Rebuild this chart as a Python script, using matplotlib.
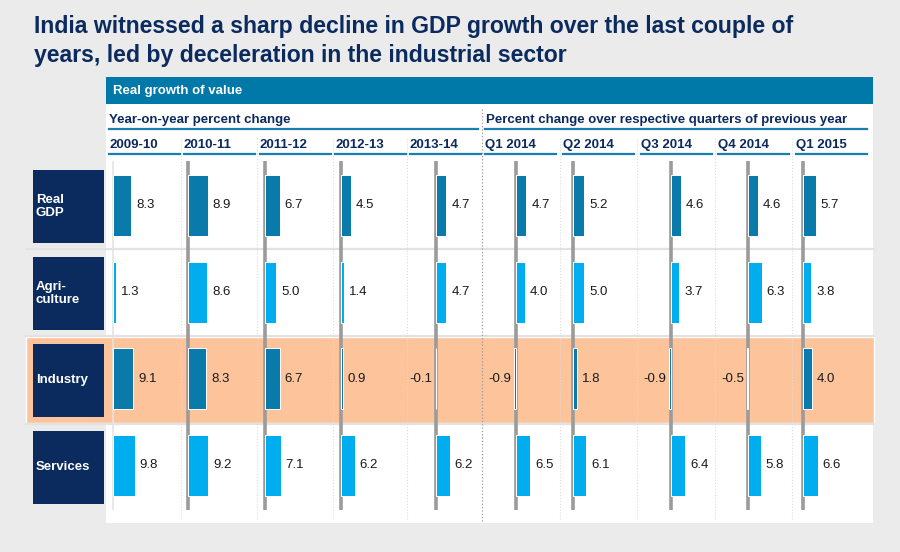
import matplotlib
matplotlib.use("Agg")
import matplotlib.pyplot as plt
from matplotlib.patches import Rectangle

plt.rcParams["font.family"] = ["Liberation Sans", "DejaVu Sans"]

# data
years = ["2009-10", "2010-11", "2011-12", "2012-13", "2013-14"]
quarters = ["Q1 2014", "Q2 2014", "Q3 2014", "Q4 2014", "Q1 2015"]
sectors = ["Real\nGDP", "Agri-\nculture", "Industry", "Services"]
real_gdp = [8.3, 8.9, 6.7, 4.5, 4.7, 4.7, 5.2, 4.6, 4.6, 5.7]
agriculture = [1.3, 8.6, 5.0, 1.4, 4.7, 4.0, 5.0, 3.7, 6.3, 3.8]
industry = [9.1, 8.3, 6.7, 0.9, -0.1, -0.9, 1.8, -0.9, -0.5, 4.0]
services = [9.8, 9.2, 7.1, 6.2, 6.2, 6.5, 6.1, 6.4, 5.8, 6.6]

title_lines = ["India witnessed a sharp decline in GDP growth over the last couple of",
               "years, led by deceleration in the industrial sector"]

# colours
NAVY = "#0b2a5e"
TEAL = "#0a7aab"
CYAN = "#00aeef"
PEACH = "#fdc39b"
BG = "#ebebeb"

# layout (pixels)
W, H = 900, 552
col_left = [109, 184, 260, 335, 410, 485, 563, 641, 718, 796]
baseline_px = [113, 188, 265, 341, 436, 516, 573, 671, 748, 803]
col_w = 71
seps = [181, 257, 333, 407, 560, 637, 715, 792]
px_per_unit = 2.2
row_top = [170, 257, 344, 431]
box_h = 73
y0, y1 = 161, 510          # extent of the column axes
row0, pitch = 205.5, 86.5  # first bar centre and row pitch

fig = plt.figure(figsize=(9, 5.52), dpi=100)
fig.patch.set_facecolor(BG)
bg = fig.add_axes([0, 0, 1, 1])
bg.set_xlim(0, W)
bg.set_ylim(H, 0)
bg.axis("off")

for line, yb in zip(title_lines, (33, 62)):
    bg.text(34, yb, line, fontsize=16.6, fontweight="bold", color=NAVY,
            va="baseline", ha="left")

# panel
bg.add_patch(Rectangle((106, 104), 767, 419, fc="white", ec="none"))
bg.add_patch(Rectangle((106, 77), 767, 27, fc="#0078a8", ec="none"))
bg.text(113, 91, "Real growth of value", color="white", fontsize=9.5,
        fontweight="bold", va="center")

# industry highlight band
bg.add_patch(Rectangle((26, 337), 848, 86, fc=PEACH, ec="white", lw=1, zorder=1))
for yy in (249, 336, 424):
    bg.plot([26, 874], [yy, yy], color="#e2e2e2", lw=1.6, zorder=1.5)

# sub headers
bg.text(109, 120, "Year-on-year percent change", color=NAVY, fontsize=9.5,
        fontweight="bold", va="center")
bg.plot([109, 478], [129, 129], color="#1a7fae", lw=1.6)
bg.text(486, 120, "Percent change over respective quarters of previous year",
        color=NAVY, fontsize=9.5, fontweight="bold", va="center")
bg.plot([485, 867], [129, 129], color="#1a7fae", lw=1.6)

# column headers
for lab, x in zip(years + quarters, col_left):
    bg.text(x, 145, lab, color=NAVY, fontsize=9.5, fontweight="bold", va="center")
    bg.plot([x, x + col_w], [154, 154], color="#1a7fae", lw=1.6)

# separators
for x in seps:
    bg.plot([x, x], [138, 520], color="#dcdcdc", lw=0.8, ls=":", zorder=1.6)
bg.plot([482, 482], [109, 522], color="#9a9a9a", lw=0.9, ls=":", zorder=1.6)

# row label boxes
for lab, top in zip(sectors, row_top):
    bg.add_patch(Rectangle((33, top), 71, box_h, fc=NAVY, ec="none", zorder=2))
    bg.text(36, top + box_h / 2, lab, color="white", fontsize=9.5,
            fontweight="bold", va="center", ha="left", linespacing=1.15, zorder=3)

# bar columns
rows = [real_gdp, agriculture, industry, services]
row_colors = [TEAL, CYAN, TEAL, CYAN]
ylim_top = (y0 - row0) / pitch
ylim_bot = (y1 - row0) / pitch
bar_h = 61 / pitch

for j, (L, B) in enumerate(zip(col_left, baseline_px)):
    ax = fig.add_axes([L / W, (H - y1) / H, col_w / W, (y1 - y0) / H])
    ax.set_xlim((L - B) / px_per_unit, (L + col_w - B) / px_per_unit)
    ax.set_ylim(ylim_bot, ylim_top)
    ax.axis("off")
    ax.patch.set_alpha(0)
    ax.axvline(0, color="#e4e4e4" if j == 0 else "#9b9b9b",
               lw=1.2 if j == 0 else 2.6, zorder=1)
    vals = [r[j] for r in rows]
    ax.barh(range(4), vals, height=bar_h, color=row_colors,
            edgecolor="white", linewidth=0.7, zorder=2)
    for i, v in enumerate(vals):
        if v >= 0:
            ax.annotate(f"{v:.1f}", xy=(v, i), xytext=(5, 0),
                        textcoords="offset pixels", ha="left", va="center",
                        fontsize=9.5, color="#1a1a1a", annotation_clip=False)
        else:
            ax.annotate(f"{v:.1f}", xy=(v, i), xytext=(-3, 0),
                        textcoords="offset pixels", ha="right", va="center",
                        fontsize=9.5, color="#1a1a1a", annotation_clip=False)

fig.savefig("out.png", dpi=100, facecolor=BG)
